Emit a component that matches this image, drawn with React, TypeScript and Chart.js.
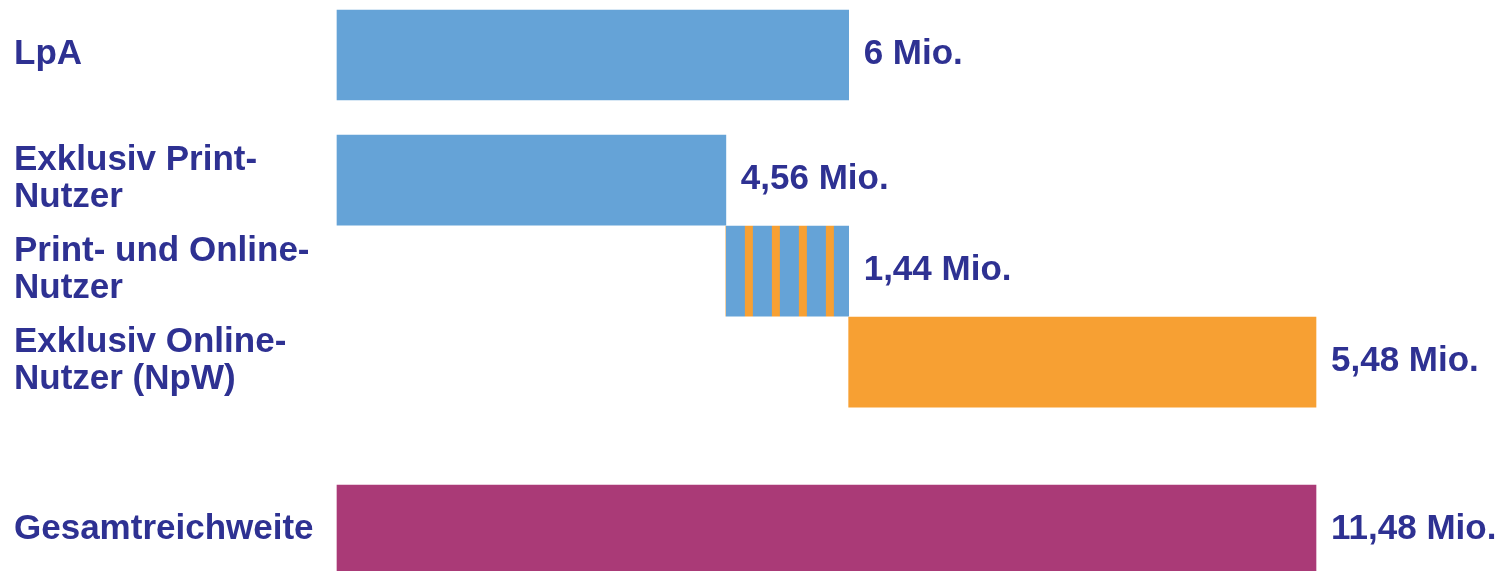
import { useEffect, useRef } from "react";
import { Chart, registerables } from "chart.js";

Chart.register(...registerables);

const categories: string[][] = [
  ["LpA"],
  ["Exklusiv Print-", "Nutzer"],
  ["Print- und Online-", "Nutzer"],
  ["Exklusiv Online-", "Nutzer (NpW)"],
  ["Gesamtreichweite"],
];
const rowPositions = [0, 1.375, 2.375, 3.375, 5.22];
const barStarts = [0, 0, 4.56, 6, 0];
const barEnds = [6, 4.56, 6, 11.48, 11.48];
const valueLabels = ["6 Mio.", "4,56 Mio.", "1,44 Mio.", "5,48 Mio.", "11,48 Mio."];

const BLUE = "#65A3D7";
const ORANGE = "#F7A033";
const MAGENTA = "#AA3A77";
const TEXT = "#2E3192";
const FONT_FAMILY = "'Liberation Sans', Arial, sans-serif";

function makeStripePattern(ctx: CanvasRenderingContext2D): CanvasPattern {
  const c = document.createElement("canvas");
  c.width = 27;
  c.height = 4;
  const g = c.getContext("2d")!;
  g.fillStyle = BLUE;
  g.fillRect(0, 0, 19, 4);
  g.fillStyle = ORANGE;
  g.fillRect(19, 0, 8, 4);
  return ctx.createPattern(c, "repeat")!;
}

export default function App() {
  const canvasRef = useRef<HTMLCanvasElement | null>(null);

  useEffect(() => {
    const canvas = canvasRef.current;
    if (!canvas) return;
    const ctx = canvas.getContext("2d")!;
    const stripe = makeStripePattern(ctx);

    const stripeAlign = {
      id: "stripeAlign",
      beforeDatasetsDraw(chart: any) {
        const meta = chart.getDatasetMeta(0);
        const el = meta.data[2];
        if (el) {
          const left = Math.min(el.x, el.base);
          stripe.setTransform(new DOMMatrix([1, 0, 0, 1, left, 0]));
        }
      },
    };

    const valueLabelPlugin = {
      id: "valueLabels",
      afterDatasetsDraw(chart: any) {
        const c = chart.ctx;
        const meta = chart.getDatasetMeta(0);
        c.save();
        c.fillStyle = TEXT;
        c.font = `bold 35px ${FONT_FAMILY}`;
        c.textAlign = "left";
        c.textBaseline = "middle";
        meta.data.forEach((el: any, i: number) => {
          const right = Math.max(el.x, el.base);
          c.fillText(valueLabels[i], right + 15, el.y - 1);
        });
        c.restore();
      },
    };

    const chart = new Chart(canvas, {
      type: "bar",
      data: {
        datasets: [
          {
            data: rowPositions.map((y, i) => ({ x: [barStarts[i], barEnds[i]], y })) as any,
            backgroundColor: [BLUE, BLUE, stripe, ORANGE, MAGENTA] as any,
            borderWidth: 0,
            barThickness: 90,
            clip: false as any,
          },
        ],
      },
      options: {
        indexAxis: "y",
        animation: false,
        responsive: false,
        maintainAspectRatio: false,
        layout: { padding: { left: 14, right: 185, top: 0, bottom: 0 } },
        plugins: {
          legend: { display: false },
          tooltip: { enabled: false },
        },
        scales: {
          x: {
            type: "linear",
            min: 0,
            max: 11.48,
            display: false,
          },
          y: {
            type: "linear",
            reverse: true,
            offset: false,
            min: -0.604,
            max: 5.67,
            grid: { display: false, offset: false },
            border: { display: false },
            afterBuildTicks(scale: any) {
              scale.ticks = rowPositions.map((v) => ({ value: v }));
            },
            afterFit(scale: any) {
              scale.width = 323;
              scale.paddingTop = 0;
              scale.paddingBottom = 0;
            },
            ticks: {
              autoSkip: false,
              crossAlign: "far",
              labelOffset: -1,
              color: TEXT,
              font: { family: FONT_FAMILY, size: 35, weight: "bold", lineHeight: 1.05 },
              callback: (_v: any, index: number) => categories[index],
            },
          },
        },
      },
      plugins: [stripeAlign, valueLabelPlugin],
    });

    return () => chart.destroy();
  }, []);

  return (
    <div style={{ position: "fixed", left: 0, top: 0, width: 1501, height: 571, background: "#fff" }}>
      <canvas ref={canvasRef} width={1501} height={571} style={{ width: 1501, height: 571, display: "block" }} />
    </div>
  );
}
